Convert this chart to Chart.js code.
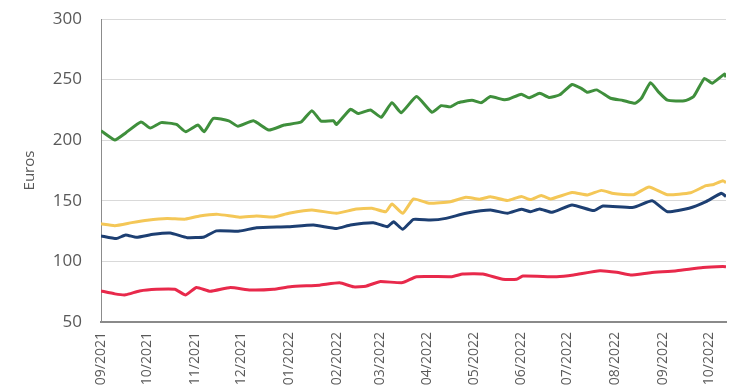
<!DOCTYPE html>
<html>
<head>
<meta charset="utf-8">
<script src="https://cdn.jsdelivr.net/npm/chart.js@4"></script>
<style>
  html, body { margin: 0; padding: 0; background: #fff; overflow: hidden; }
</style>
</head>
<body>
<canvas id="price-chart" width="740" height="400"></canvas>
<script>
/*=======================================
 Data (x = days since 01/09/2021)
========================================*/
var monthDays = [0, 30, 61, 91, 122, 153, 181, 212, 242, 273, 303, 334, 365, 395];
var monthLabels = ['09/2021', '10/2021', '11/2021', '12/2021', '01/2022', '02/2022', '03/2022',
                   '04/2022', '05/2022', '06/2022', '07/2022', '08/2022', '09/2022', '10/2022'];

var greenDays = [0, 9, 16, 26, 32, 39, 49, 55, 63, 67, 73, 83, 89, 99, 109, 119, 130, 137, 143, 151,
                 153, 162, 167, 175, 182, 189, 195, 205, 215, 221, 227, 232, 241, 247, 253, 261, 265,
                 273, 278, 285, 291, 298, 306, 312, 316, 322, 331, 339, 347, 351, 357, 362, 368, 379,
                 385, 392, 397, 405, 406];
var greenValues = [207.8, 200.2, 206, 215, 210, 214.5, 213, 207, 212.5, 207, 218, 216, 211.5, 216, 208.4,
                   212.5, 215, 224.4, 215.8, 216, 213, 225.5, 222, 225, 218.9, 231, 222.7, 236, 223, 228.5,
                   227.5, 231, 233, 231, 236, 233.5, 234, 238, 235, 238.7, 235.3, 237.5, 246, 242.8, 239.5,
                   241.5, 234.6, 232.8, 230.4, 234.5, 247.5, 240, 233, 232.5, 236, 251, 247, 254.5, 252];

var yellowDays = [0, 9, 20, 30, 43, 55, 64, 76, 90, 101, 112, 122, 137, 153, 165, 176, 185, 189, 196, 203,
                  213, 227, 237, 246, 253, 264, 273, 279, 286, 292, 306, 316, 325, 333, 346, 356, 368,
                  383, 393, 398, 404, 406];
var yellowValues = [131, 129.5, 132, 134, 135.4, 134.9, 137.5, 138.8, 136.5, 137.5, 136.6, 139.7, 142.4,
                    139.7, 143, 143.8, 141, 147.4, 139.7, 151.5, 148, 149.3, 152.9, 151.3, 153.4, 150.2,
                    153.6, 151, 154.3, 151.5, 156.8, 154.8, 158.6, 156, 155, 161.4, 155, 156.7, 162.5,
                    163.5, 166.5, 165];

var blueDays = [0, 10, 16, 23, 34, 45, 56, 67, 75, 90, 101, 121, 138, 153, 162, 177, 186, 190, 196, 203,
                214, 224, 237, 253, 264, 273, 279, 285, 293, 306, 320, 326, 346, 358, 368, 382, 393,
                403, 406];
var blueValues = [121, 118.8, 121.8, 119.9, 122.4, 123.4, 119.6, 120.2, 125.2, 125, 127.8, 128.6, 130,
                  127.2, 130, 131.9, 128.6, 132.7, 126.5, 134.7, 134.1, 135.5, 139.7, 142.4, 139.7, 143,
                  141, 143.3, 140.5, 146.5, 141.9, 145.7, 144.6, 150, 141, 143.8, 149.3, 156.2, 153.5];

var redDays = [0, 9, 16, 25, 36, 48, 55, 62, 71, 84, 97, 112, 123, 142, 155, 164, 172, 181, 196, 205,
               228, 235, 248, 261, 270, 274, 296, 307, 324, 335, 344, 357, 374, 391, 404, 406];
var redValues = [75.6, 73.2, 72.4, 75.6, 77, 77, 72.3, 78.5, 75.3, 78.5, 76.4, 77, 79.1, 80.4, 82.3, 79,
                 79.5, 83.3, 82.5, 87.4, 87.4, 89.6, 89.6, 85.2, 85.2, 87.9, 87.4, 88.8, 92.3, 91, 88.8,
                 90.7, 92.3, 95, 95.8, 95.5];

var yTicks = [50, 100, 150, 200, 250, 300];

// pair up days and values for the linear x scale
function points(days, values) {
   return days.map((d, i) => ({ x: d, y: values[i] }));
}

function line(days, values, color) {
   return {
      data: points(days, values),
      borderColor: color,
      borderWidth: 3,
      pointRadius: 0,
      tension: 0.15,
      fill: false
   };
}

/*=======================================
 Chart
========================================*/
var ctx = document.getElementById('price-chart');
var gray = '#595959';

var priceChart = new Chart(ctx, {
   type: 'line',
   data: {
      datasets: [
         line(greenDays, greenValues, '#3F8F3C'),
         line(yellowDays, yellowValues, '#F4C757'),
         line(blueDays, blueValues, '#1D3F72'),
         line(redDays, redValues, '#E8294B')
      ]
   },
   options: {
      responsive: false,
      animation: false,
      layout: { padding: { top: 19, right: 14, bottom: 0, left: 0 } },
      plugins: {
         legend: { display: false },
         tooltip: { enabled: false }
      },
      scales: {
         x: {
            type: 'linear',
            min: 0,
            max: 406,
            grid: { display: false, drawTicks: false },
            border: { display: true, color: '#8a8a8a', width: 2 },
            afterBuildTicks: s => { s.ticks = monthDays.map(v => ({ value: v })); },
            afterFit: s => { s.height = 78; s.paddingLeft = 0; s.paddingRight = 0; },
            ticks: {
               autoSkip: false,
               minRotation: 90,
               maxRotation: 90,
               padding: 10,
               color: gray,
               font: { family: 'Open Sans', size: 14 },
               callback: v => monthLabels[monthDays.indexOf(v)]
            }
         },
         y: {
            min: 50,
            max: 300,
            afterBuildTicks: s => { s.ticks = yTicks.map(v => ({ value: v })); },
            // keep the tick padding from pushing the plot area down
            afterFit: s => { s.width = 101; s.paddingTop = 0; s.paddingBottom = 0; },
            grid: { color: '#d9d9d9', drawTicks: false },
            border: { display: true, color: '#8c8c8c', width: 1 },
            ticks: {
               padding: 19,
               color: gray,
               font: { family: 'Open Sans', size: 17 }
            },
            title: {
               display: true,
               text: 'Euros',
               color: gray,
               padding: { top: 21, bottom: 0 },
               font: { family: 'Open Sans', size: 15 }
            }
         }
      }
   }
});
</script>
</body>
</html>
